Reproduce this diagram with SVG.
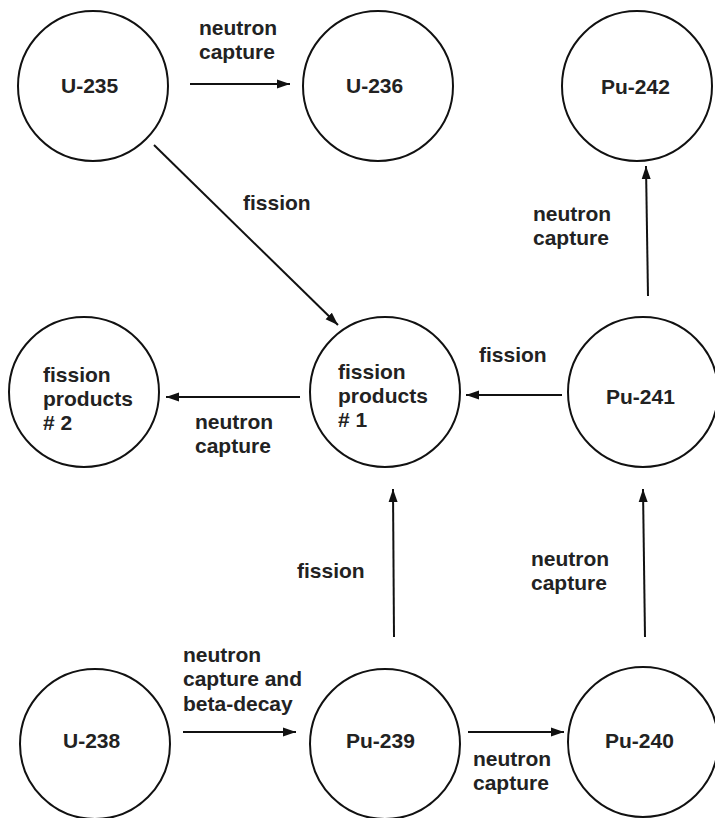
<svg xmlns="http://www.w3.org/2000/svg" width="715" height="818" viewBox="0 0 715 818">
  <style>
    .node { fill: #ffffff; stroke: #111111; stroke-width: 2; }
    .edge { fill: none; stroke: #111111; stroke-width: 2; }
    text { font-family: "Liberation Sans", Arial, sans-serif; font-size: 21px; font-weight: bold; fill: #222222; }
  </style>
  <defs>
    <marker id="arrow" markerUnits="userSpaceOnUse" markerWidth="14" markerHeight="10" refX="13" refY="5" orient="auto">
      <path d="M0,0.5 L13,5 L0,9.5 Z" fill="#111111"/>
    </marker>
  </defs>
  <rect width="715" height="818" fill="#ffffff"/>

  <!-- connectors -->
  <g id="edges">
    <line class="edge" x1="190" y1="84" x2="290" y2="84" marker-end="url(#arrow)"/>
    <line class="edge" x1="154" y1="145" x2="338" y2="325" marker-end="url(#arrow)"/>
    <line class="edge" x1="300" y1="397" x2="166" y2="397" marker-end="url(#arrow)"/>
    <line class="edge" x1="562" y1="395" x2="466" y2="395" marker-end="url(#arrow)"/>
    <line class="edge" x1="648" y1="296" x2="646" y2="166" marker-end="url(#arrow)"/>
    <line class="edge" x1="394" y1="637" x2="393" y2="489" marker-end="url(#arrow)"/>
    <line class="edge" x1="645" y1="637" x2="643" y2="489" marker-end="url(#arrow)"/>
    <line class="edge" x1="183" y1="732" x2="296" y2="732" marker-end="url(#arrow)"/>
    <line class="edge" x1="468" y1="732" x2="564" y2="732" marker-end="url(#arrow)"/>

    <text x="199" y="35">neutron</text>
    <text x="199" y="59">capture</text>
    <text x="243" y="210">fission</text>
    <text x="533" y="221">neutron</text>
    <text x="533" y="245">capture</text>
    <text x="479" y="362">fission</text>
    <text x="195" y="429">neutron</text>
    <text x="195" y="453">capture</text>
    <text x="297" y="578">fission</text>
    <text x="531" y="566">neutron</text>
    <text x="531" y="590">capture</text>
    <text x="183" y="662">neutron</text>
    <text x="183" y="686">capture and</text>
    <text x="183" y="711">beta-decay</text>
    <text x="473" y="766">neutron</text>
    <text x="473" y="790">capture</text>
  </g>

  <!-- nodes -->
  <g id="u235">
    <circle class="node" cx="93" cy="86" r="75"/>
    <text x="61" y="93">U-235</text>
  </g>
  <g id="u236">
    <circle class="node" cx="378" cy="86" r="75"/>
    <text x="346" y="93">U-236</text>
  </g>
  <g id="pu242">
    <circle class="node" cx="637" cy="86" r="75"/>
    <text x="601" y="94">Pu-242</text>
  </g>
  <g id="fp2">
    <circle class="node" cx="84" cy="392" r="75"/>
    <text x="43" y="382">fission</text>
    <text x="43" y="406">products</text>
    <text x="43" y="430"># 2</text>
  </g>
  <g id="fp1">
    <circle class="node" cx="385" cy="392" r="75"/>
    <text x="338" y="379">fission</text>
    <text x="338" y="403">products</text>
    <text x="338" y="427"># 1</text>
  </g>
  <g id="pu241">
    <circle class="node" cx="643" cy="392" r="75"/>
    <text x="606" y="404">Pu-241</text>
  </g>
  <g id="u238">
    <circle class="node" cx="95" cy="744" r="75"/>
    <text x="63" y="748">U-238</text>
  </g>
  <g id="pu239">
    <circle class="node" cx="385" cy="744" r="75"/>
    <text x="346" y="748">Pu-239</text>
  </g>
  <g id="pu240">
    <circle class="node" cx="643" cy="742" r="75"/>
    <text x="605" y="748">Pu-240</text>
  </g>
</svg>
